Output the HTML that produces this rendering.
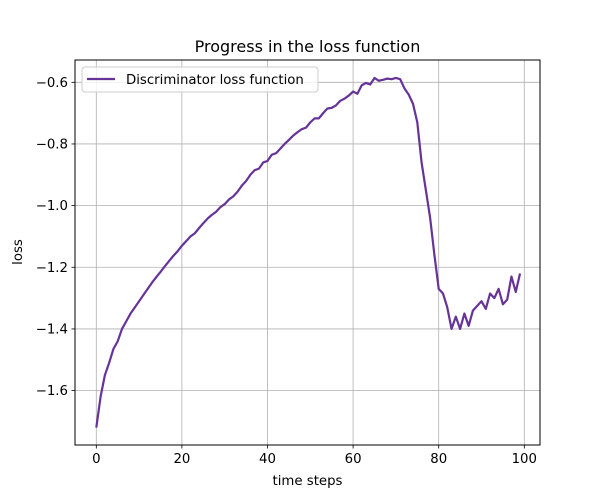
<!DOCTYPE html>
<html><head><meta charset="utf-8"><style>
body{margin:0;background:#fff;}
svg{display:block;font-family:"DejaVu Sans","Liberation Sans",sans-serif;}
</style></head><body>
<svg id="chart" width="600" height="500">
<rect width="600" height="500" fill="#fff"/>
<text x="307.5" y="52" text-anchor="middle" font-size="16" fill="#000">Progress in the loss function</text>
<text x="307.5" y="485" text-anchor="middle" font-size="13.3">time steps</text>
<text transform="translate(22,252) rotate(-90)" text-anchor="middle" font-size="13.3">loss</text>
<g id="grid"></g><g id="ticks"></g><g id="series"></g>
<rect x="75" y="60" width="465" height="385" fill="none" stroke="#000" stroke-width="1"/>
<g>
<rect x="82" y="67" width="236" height="25" rx="3" fill="#fff" fill-opacity="0.8" stroke="#ccc"/>
<line x1="87" y1="79" x2="115" y2="79" stroke="#663399" stroke-width="2.2"/>
<text x="126" y="84" font-size="13.3">Discriminator loss function</text>
</g>
</svg>
<script>
const xTicks=[0,20,40,60,80,100];
const yTicks=[-0.6,-0.8,-1.0,-1.2,-1.4,-1.6];
const yTickLabels=["−0.6","−0.8","−1.0","−1.2","−1.4","−1.6"];
const lossValues=[-1.72,-1.62,-1.55,-1.51,-1.465,-1.44,-1.40,-1.375,-1.35,-1.33,
-1.31,-1.29,-1.27,-1.25,-1.232,-1.215,-1.197,-1.18,-1.163,-1.148,
-1.13,-1.115,-1.10,-1.09,-1.073,-1.057,-1.042,-1.03,-1.02,-1.005,
-0.995,-0.98,-0.97,-0.955,-0.935,-0.92,-0.90,-0.885,-0.88,-0.86,
-0.855,-0.835,-0.83,-0.815,-0.80,-0.787,-0.773,-0.762,-0.752,-0.747,
-0.73,-0.717,-0.717,-0.70,-0.685,-0.683,-0.675,-0.66,-0.653,-0.643,
-0.63,-0.637,-0.61,-0.602,-0.607,-0.586,-0.595,-0.592,-0.588,-0.59,
-0.586,-0.59,-0.62,-0.64,-0.67,-0.73,-0.86,-0.95,-1.04,-1.16,
-1.27,-1.285,-1.33,-1.40,-1.36,-1.40,-1.35,-1.39,-1.34,-1.325,
-1.31,-1.335,-1.285,-1.30,-1.27,-1.32,-1.305,-1.23,-1.28,-1.22];
const NS="http://www.w3.org/2000/svg";
const X=v=>96.3+v*4.28;
const Y=v=>82.3+(-0.6-v)*308.3;
const grid=document.getElementById('grid'),ticks=document.getElementById('ticks'),series=document.getElementById('series');
function mk(tag,attrs,parent){const e=document.createElementNS(NS,tag);for(const k in attrs)e.setAttribute(k,attrs[k]);parent.appendChild(e);return e;}
xTicks.forEach(t=>{
 const g=mk('line',{x1:X(t),x2:X(t),y1:60,y2:445,stroke:'#b0b0b0','stroke-width':0.8},grid);
 
 
 mk('line',{x1:X(t),x2:X(t),y1:445,y2:448.5,stroke:'#000','stroke-width':0.8},ticks);
 const tx=mk('text',{x:X(t),y:463,'text-anchor':'middle','font-size':13.3},ticks);
 tx.textContent=String(t);
 
 
});
yTicks.forEach((t,i)=>{
 const g=mk('line',{x1:75,x2:540,y1:Y(t),y2:Y(t),stroke:'#b0b0b0','stroke-width':0.8},grid);
 
 
 mk('line',{x1:71.5,x2:75,y1:Y(t),y2:Y(t),stroke:'#000','stroke-width':0.8},ticks);
 const tx=mk('text',{x:68,y:Y(t)+4.5,'text-anchor':'end','font-size':13.3},ticks);
 tx.textContent=yTickLabels[i];
 
 
});
const pts=lossValues.map((v,i)=>X(i).toFixed(2)+','+Y(v).toFixed(2)).join(' ');
const pl=mk('polyline',{points:pts,fill:'none',stroke:'#663399','stroke-width':2.2,'stroke-linejoin':'round'},series);


</script>
</body></html>
